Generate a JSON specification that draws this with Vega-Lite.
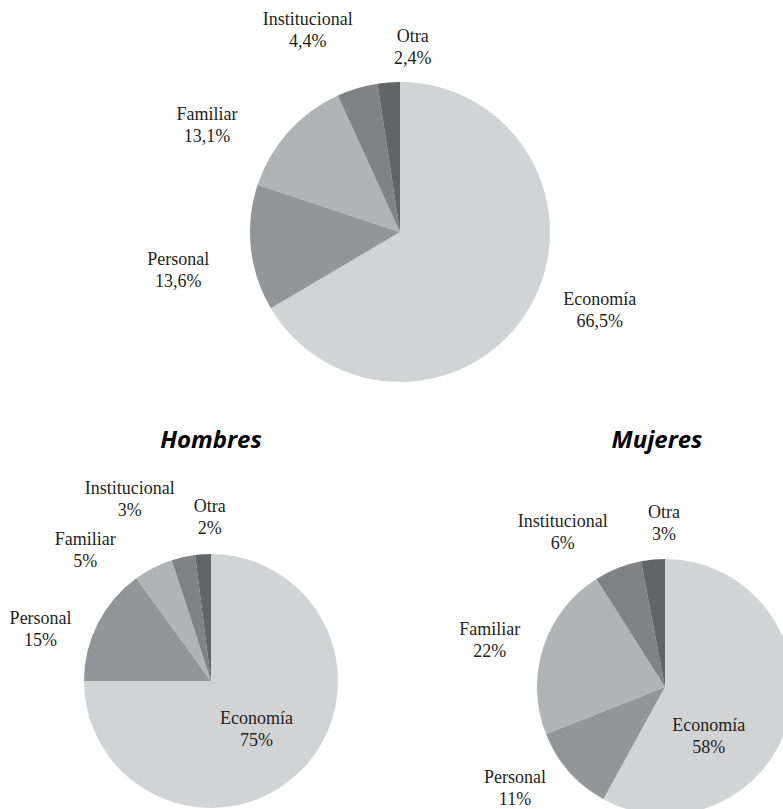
{
  "$schema": "https://vega.github.io/schema/vega-lite/v6.json",
  "padding": 0,
  "background": "white",
  "datasets": {
    "general": [
      {"category": "Economía", "value": 0.665, "ord": 1},
      {"category": "Personal", "value": 0.136, "ord": 2},
      {"category": "Familiar", "value": 0.131, "ord": 3},
      {"category": "Institucional", "value": 0.044, "ord": 4},
      {"category": "Otra", "value": 0.024, "ord": 5}
    ],
    "hombres": [
      {"category": "Economía", "value": 0.75, "ord": 1},
      {"category": "Personal", "value": 0.15, "ord": 2},
      {"category": "Familiar", "value": 0.05, "ord": 3},
      {"category": "Institucional", "value": 0.03, "ord": 4},
      {"category": "Otra", "value": 0.02, "ord": 5}
    ],
    "mujeres": [
      {"category": "Economía", "value": 0.58, "ord": 1},
      {"category": "Personal", "value": 0.11, "ord": 2},
      {"category": "Familiar", "value": 0.22, "ord": 3},
      {"category": "Institucional", "value": 0.06, "ord": 4},
      {"category": "Otra", "value": 0.03, "ord": 5}
    ]
  },
  "config": {
    "view": {"stroke": null},
    "locale": {"number": {"decimal": ",", "thousands": ".", "grouping": [3], "currency": ["", " €"]}},
    "title": {"font": "Open Sans", "fontSize": 24, "fontWeight": "bold", "fontStyle": "italic", "color": "#000000", "anchor": "middle", "frame": "group", "offset": 11, "baseline": "alphabetic"},
    "text": {"font": "Liberation Serif", "fontSize": 18, "fill": "#231f20"}
  },
  "spacing": 0,
  "bounds": "flush",
  "vconcat": [
    {
      "width": 800,
      "height": 464,
      "data": {"name": "general"},
      "encoding": {
        "theta": {"field": "value", "type": "quantitative", "stack": true},
        "order": {"field": "ord", "type": "quantitative"}
      },
      "layer": [
        {
          "mark": {"type": "arc", "radius": 150},
          "encoding": {
            "color": {"field": "category", "type": "nominal", "legend": null,
              "scale": {"domain": ["Economía", "Personal", "Familiar", "Institucional", "Otra"],
                        "range": ["#d2d3d5", "#939598", "#b1b3b6", "#808285", "#636466"]}}
          }
        },
        {
          "mark": {"type": "text", "radius": 215,
            "dx": {"expr": "datum.category === 'Economía' ? 13 : datum.category === 'Personal' ? -8 : datum.category === 'Familiar' ? -33 : datum.category === 'Institucional' ? -31 : 29"},
            "dy": {"expr": "(datum.category === 'Economía' ? -28 : datum.category === 'Personal' ? 16 : datum.category === 'Familiar' ? 38 : datum.category === 'Institucional' ? 5 : 30) - 11"}},
          "encoding": {
            "detail": {"field": "category", "type": "nominal"},
            "text": {"field": "category", "type": "nominal"}
          }
        },
        {
          "mark": {"type": "text", "radius": 215,
            "dx": {"expr": "datum.category === 'Economía' ? 13 : datum.category === 'Personal' ? -8 : datum.category === 'Familiar' ? -33 : datum.category === 'Institucional' ? -31 : 29"},
            "dy": {"expr": "(datum.category === 'Economía' ? -28 : datum.category === 'Personal' ? 16 : datum.category === 'Familiar' ? 38 : datum.category === 'Institucional' ? 5 : 30) + 11"}},
          "encoding": {
            "detail": {"field": "category", "type": "nominal"},
            "text": {"field": "value", "type": "quantitative", "format": ".1%"}
          }
        }
      ]
    },
    {
      "spacing": 0,
      "bounds": "flush",
      "hconcat": [
        {
          "title": {"text": "Hombres"},
          "width": 422,
          "height": 434,
          "data": {"name": "hombres"},
          "encoding": {
            "theta": {"field": "value", "type": "quantitative", "stack": true},
            "order": {"field": "ord", "type": "quantitative"}
          },
          "layer": [
            {
              "mark": {"type": "arc", "radius": 127},
              "encoding": {
                "color": {"field": "category", "type": "nominal", "legend": null,
                  "scale": {"domain": ["Economía", "Personal", "Familiar", "Institucional", "Otra"],
                            "range": ["#d2d3d5", "#939598", "#b1b3b6", "#808285", "#636466"]}}
              }
            },
            {
              "mark": {"type": "text",
                "radius": {"expr": "datum.category === 'Economía' ? 70 : 180"},
                "dx": {"expr": "datum.category === 'Economía' ? -4 : datum.category === 'Personal' ? -10 : datum.category === 'Familiar' ? -44 : datum.category === 'Institucional' ? -42 : 10"},
                "dy": {"expr": "(datum.category === 'Economía' ? 0 : datum.category === 'Personal' ? 31 : datum.category === 'Familiar' ? 30 : datum.category === 'Institucional' ? -5 : 17) - 11"}},
              "encoding": {
                "detail": {"field": "category", "type": "nominal"},
                "text": {"field": "category", "type": "nominal"}
              }
            },
            {
              "mark": {"type": "text",
                "radius": {"expr": "datum.category === 'Economía' ? 70 : 180"},
                "dx": {"expr": "datum.category === 'Economía' ? -4 : datum.category === 'Personal' ? -10 : datum.category === 'Familiar' ? -44 : datum.category === 'Institucional' ? -42 : 10"},
                "dy": {"expr": "(datum.category === 'Economía' ? 0 : datum.category === 'Personal' ? 31 : datum.category === 'Familiar' ? 30 : datum.category === 'Institucional' ? -5 : 17) + 11"}},
              "encoding": {
                "detail": {"field": "category", "type": "nominal"},
                "text": {"field": "value", "type": "quantitative", "format": ".0%"}
              }
            }
          ]
        },
        {
          "title": {"text": "Mujeres", "dx": -8},
          "width": 486,
          "height": 446,
          "data": {"name": "mujeres"},
          "encoding": {
            "theta": {"field": "value", "type": "quantitative", "stack": true},
            "order": {"field": "ord", "type": "quantitative"}
          },
          "layer": [
            {
              "mark": {"type": "arc", "radius": 128},
              "encoding": {
                "color": {"field": "category", "type": "nominal", "legend": null,
                  "scale": {"domain": ["Economía", "Personal", "Familiar", "Institucional", "Otra"],
                            "range": ["#d2d3d5", "#939598", "#b1b3b6", "#808285", "#636466"]}}
              }
            },
            {
              "mark": {"type": "text",
                "radius": {"expr": "datum.category === 'Economía' ? 70 : 180"},
                "dx": {"expr": "datum.category === 'Economía' ? -24 : datum.category === 'Personal' ? -15 : datum.category === 'Familiar' ? -4 : datum.category === 'Institucional' ? -36 : 16"},
                "dy": {"expr": "(datum.category === 'Economía' ? 33 : datum.category === 'Personal' ? -17 : datum.category === 'Familiar' ? 10 : datum.category === 'Institucional' ? 13 : 16) - 11"}},
              "encoding": {
                "detail": {"field": "category", "type": "nominal"},
                "text": {"field": "category", "type": "nominal"}
              }
            },
            {
              "mark": {"type": "text",
                "radius": {"expr": "datum.category === 'Economía' ? 70 : 180"},
                "dx": {"expr": "datum.category === 'Economía' ? -24 : datum.category === 'Personal' ? -15 : datum.category === 'Familiar' ? -4 : datum.category === 'Institucional' ? -36 : 16"},
                "dy": {"expr": "(datum.category === 'Economía' ? 33 : datum.category === 'Personal' ? -17 : datum.category === 'Familiar' ? 10 : datum.category === 'Institucional' ? 13 : 16) + 11"}},
              "encoding": {
                "detail": {"field": "category", "type": "nominal"},
                "text": {"field": "value", "type": "quantitative", "format": ".0%"}
              }
            }
          ]
        }
      ]
    }
  ]
}
